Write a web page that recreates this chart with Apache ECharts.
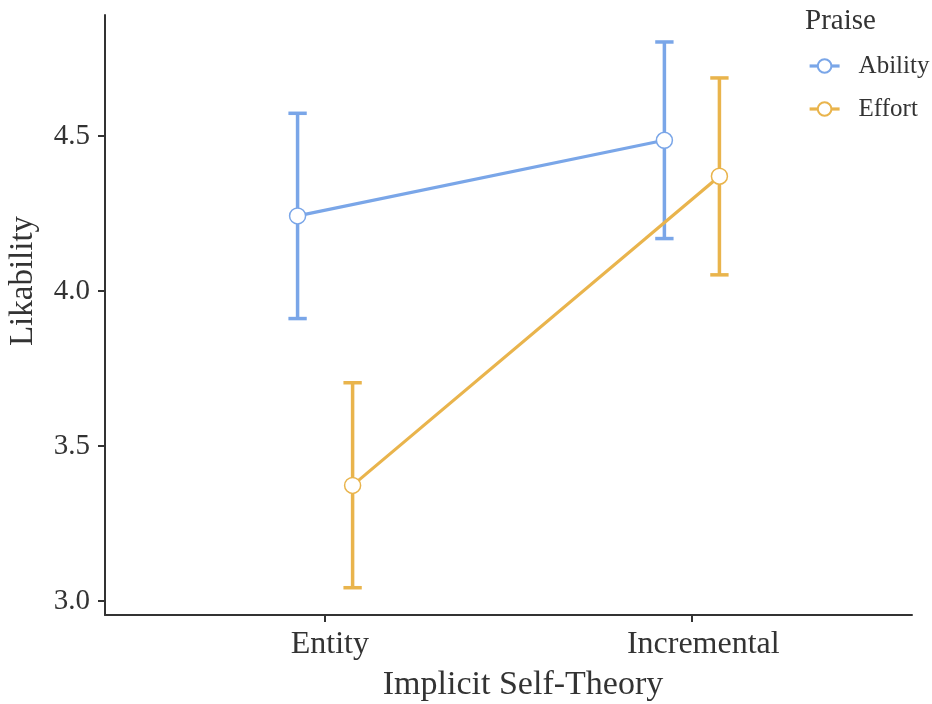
<!DOCTYPE html>
<html>
<head>
<meta charset="utf-8">
<script src="https://cdn.jsdelivr.net/npm/echarts@6/dist/echarts.min.js"></script>
<style>
  html, body { margin: 0; padding: 0; background: #ffffff; }
  #chart { width: 932px; height: 704px; }
</style>
</head>
<body>
<div id="chart"></div>
<script>
// Likability by implicit self-theory and praise type (mean with interval)
const categories = ['Entity', 'Incremental'];
const praiseGroups = ['Ability', 'Effort'];

const abilityMean  = [4.242, 4.486];
const abilityLower = [3.911, 4.169];
const abilityUpper = [4.573, 4.803];

const effortMean  = [3.373, 4.370];
const effortLower = [3.043, 4.052];
const effortUpper = [3.704, 4.687];

const yTicks = [3.0, 3.5, 4.0, 4.5];

const colors = { Ability: '#7AA6E8', Effort: '#E9B44C' };
const dodge = 0.075;      // horizontal offset of each praise group
const capHalf = 0.025;    // half width of the interval caps
const FONT = '"Liberation Serif", "DejaVu Serif", serif';
const TEXT = '#333333';

// category label anchors sit slightly right of their ticks
const labelNudge = [0.013, 0.031];
const xTickValues = categories.map((c, i) => i + 1);
const xLabelValues = categories.map((c, i) => i + 1 + labelNudge[i]);

const groups = [
  { name: 'Ability', mean: abilityMean, lower: abilityLower, upper: abilityUpper, shift: -dodge },
  { name: 'Effort',  mean: effortMean,  lower: effortLower,  upper: effortUpper,  shift:  dodge }
];

const series = [];

groups.forEach(g => {
  const pos = categories.map((c, i) => i + 1 + g.shift);
  // interval bars
  series.push({
    name: g.name + ' interval',
    type: 'custom',
    z: 2,
    silent: true,
    data: pos.map((x, i) => [x, g.lower[i], g.upper[i]]),
    renderItem: function (params, api) {
      const x = api.value(0);
      const lo = api.coord([x, api.value(1)]);
      const hi = api.coord([x, api.value(2)]);
      const loL = api.coord([x - capHalf, api.value(1)]);
      const loR = api.coord([x + capHalf, api.value(1)]);
      const hiL = api.coord([x - capHalf, api.value(2)]);
      const hiR = api.coord([x + capHalf, api.value(2)]);
      const style = { stroke: colors[g.name], lineWidth: 3.5, fill: null };
      return {
        type: 'group',
        children: [
          { type: 'line', shape: { x1: lo[0], y1: lo[1], x2: hi[0], y2: hi[1] }, style: style },
          { type: 'line', shape: { x1: loL[0], y1: loL[1], x2: loR[0], y2: loR[1] }, style: style },
          { type: 'line', shape: { x1: hiL[0], y1: hiL[1], x2: hiR[0], y2: hiR[1] }, style: style }
        ]
      };
    }
  });
});

groups.forEach(g => {
  const pos = categories.map((c, i) => i + 1 + g.shift);
  series.push({
    name: g.name,
    type: 'line',
    z: 3,
    data: pos.map((x, i) => [x, g.mean[i]]),
    symbol: 'circle',
    symbolSize: 16,
    showSymbol: true,
    lineStyle: { color: colors[g.name], width: 3.2 },
    itemStyle: { color: '#ffffff', borderColor: colors[g.name], borderWidth: 1.5 },
    emphasis: { disabled: true },
    animation: false
  });
});

const chart = echarts.init(document.getElementById('chart'), null, { renderer: 'canvas' });

chart.setOption({
  animation: false,
  backgroundColor: '#ffffff',
  grid: { left: 105, right: 20, top: 15, bottom: 89, containLabel: false },
  xAxis: {
    type: 'value',
    min: 0.4,
    max: 2.6,
    splitLine: { show: false },
    axisLine: { show: true, lineStyle: { color: '#333333', width: 2 } },
    axisTick: { show: true, length: 7, lineStyle: { color: '#333333', width: 2 }, customValues: xTickValues },
    axisLabel: {
      customValues: xLabelValues,
      margin: 14,
      fontFamily: FONT,
      fontSize: 32,
      color: TEXT,
      formatter: v => categories[Math.round(v) - 1] || ''
    }
  },
  yAxis: {
    type: 'value',
    min: 2.955,
    max: 4.89,
    splitLine: { show: false },
    axisLine: { show: true, lineStyle: { color: '#333333', width: 2 } },
    axisTick: { show: true, length: 7, lineStyle: { color: '#333333', width: 2 }, customValues: yTicks },
    axisLabel: {
      customValues: yTicks,
      margin: 15,
      fontFamily: FONT,
      fontSize: 29,
      color: TEXT,
      formatter: v => v.toFixed(1)
    }
  },
  legend: {
    data: praiseGroups,
    orient: 'vertical',
    left: 803,
    top: 47,
    itemWidth: 30,
    itemHeight: 17,
    itemGap: 15,
    selectedMode: false,
    lineStyle: { width: 3.2 },
    textStyle: { fontFamily: FONT, fontSize: 25, color: TEXT, lineHeight: 28, padding: [0, 0, 0, 14] }
  },
  graphic: [
    {
      type: 'text', left: 805, top: 7,
      style: { text: 'Praise', font: '29px ' + FONT, fill: TEXT }
    },
    {
      type: 'text', x: 523, y: 685,
      style: { text: 'Implicit Self-Theory', font: '34px ' + FONT, fill: TEXT, align: 'center', verticalAlign: 'middle' }
    },
    {
      type: 'text', x: 23, y: 281, rotation: Math.PI / 2,
      style: { text: 'Likability', font: '33px ' + FONT, fill: TEXT, align: 'center', verticalAlign: 'middle' }
    }
  ],
  series: series
});
</script>
</body>
</html>
